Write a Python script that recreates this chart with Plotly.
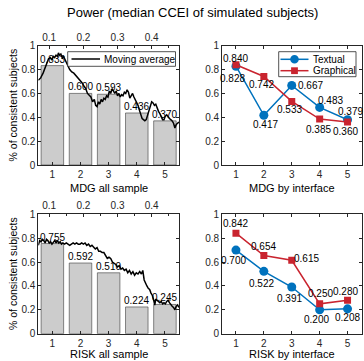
import plotly.graph_objects as go

# ---------------- data ----------------
groups = [1, 2, 3, 4, 5]

mdg_all = [0.833, 0.600, 0.593, 0.436, 0.370]
risk_all = [0.755, 0.592, 0.510, 0.224, 0.245]

mdg_textual = [0.828, 0.417, 0.667, 0.483, 0.379]
mdg_graphical = [0.840, 0.742, 0.533, 0.385, 0.360]
risk_textual = [0.700, 0.522, 0.391, 0.200, 0.208]
risk_graphical = [0.842, 0.654, 0.615, 0.250, 0.280]

# moving average of consistency against the CCEI threshold (top axis)
mdg_ma_x = [0.068, 0.075, 0.082, 0.088, 0.094, 0.098, 0.103, 0.108, 0.112, 0.116,
            0.120, 0.124, 0.127, 0.130, 0.134, 0.138, 0.142, 0.146, 0.150, 0.155,
            0.160, 0.166, 0.172, 0.178, 0.184, 0.190, 0.196, 0.202, 0.207, 0.212,
            0.217, 0.222, 0.227, 0.232, 0.236, 0.240, 0.244, 0.248, 0.252, 0.256,
            0.260, 0.264, 0.268, 0.272, 0.276, 0.280, 0.284, 0.288, 0.292, 0.296,
            0.300, 0.304, 0.308, 0.312, 0.316, 0.320, 0.324, 0.328, 0.332, 0.336,
            0.340, 0.344, 0.348, 0.352, 0.356, 0.360, 0.364, 0.368, 0.372, 0.376,
            0.380, 0.384, 0.388, 0.392, 0.396, 0.400, 0.404, 0.408, 0.412, 0.416,
            0.420, 0.424, 0.428, 0.432, 0.436, 0.440, 0.444, 0.448, 0.452, 0.456,
            0.460, 0.464, 0.468, 0.472, 0.476, 0.480]
mdg_ma_y = [0.71, 0.73, 0.77, 0.82, 0.87, 0.89, 0.90, 0.88, 0.91, 0.90,
            0.92, 0.91, 0.94, 0.92, 0.93, 0.90, 0.91, 0.88, 0.85, 0.83,
            0.80, 0.78, 0.77, 0.75, 0.73, 0.71, 0.69, 0.66, 0.64, 0.60,
            0.58, 0.57, 0.53, 0.55, 0.50, 0.49, 0.53, 0.51, 0.55, 0.53,
            0.56, 0.55, 0.58, 0.57, 0.62, 0.60, 0.64, 0.62, 0.60, 0.62,
            0.58, 0.60, 0.57, 0.59, 0.58, 0.61, 0.60, 0.63, 0.61, 0.56,
            0.58, 0.60, 0.57, 0.55, 0.53, 0.50, 0.46, 0.42, 0.39, 0.38,
            0.37, 0.38, 0.42, 0.47, 0.50, 0.53, 0.52, 0.50, 0.51, 0.47,
            0.45, 0.43, 0.41, 0.38, 0.38, 0.41, 0.42, 0.40, 0.39, 0.38,
            0.37, 0.35, 0.31, 0.34, 0.35, 0.36]

risk_ma_x = [0.068, 0.072, 0.076, 0.080, 0.084, 0.088, 0.092, 0.096, 0.100, 0.104,
             0.108, 0.112, 0.116, 0.120, 0.124, 0.128, 0.132, 0.136, 0.140, 0.145,
             0.150, 0.155, 0.160, 0.165, 0.170, 0.175, 0.180, 0.185, 0.190, 0.195,
             0.200, 0.205, 0.210, 0.215, 0.220, 0.225, 0.230, 0.235, 0.240, 0.245,
             0.250, 0.255, 0.260, 0.265, 0.270, 0.275, 0.280, 0.285, 0.290, 0.295,
             0.300, 0.305, 0.310, 0.315, 0.320, 0.325, 0.330, 0.335, 0.340, 0.345,
             0.350, 0.355, 0.360, 0.365, 0.370, 0.374, 0.378, 0.382, 0.386, 0.390,
             0.394, 0.398, 0.402, 0.406, 0.409, 0.412, 0.416, 0.420, 0.424, 0.428,
             0.432, 0.436, 0.440, 0.444, 0.448, 0.452, 0.456, 0.460, 0.464, 0.468,
             0.472, 0.476, 0.480]
risk_ma_y = [0.74, 0.78, 0.77, 0.79, 0.78, 0.76, 0.79, 0.78, 0.76, 0.77,
             0.75, 0.77, 0.78, 0.76, 0.78, 0.76, 0.77, 0.75, 0.76, 0.75,
             0.76, 0.75, 0.74, 0.75, 0.76, 0.75, 0.76, 0.75, 0.75, 0.76,
             0.75, 0.76, 0.74, 0.75, 0.73, 0.74, 0.72, 0.71, 0.72, 0.69,
             0.69, 0.68, 0.68, 0.66, 0.63, 0.64, 0.63, 0.60, 0.59, 0.58,
             0.56, 0.57, 0.54, 0.55, 0.53, 0.54, 0.51, 0.53, 0.50, 0.52,
             0.49, 0.51, 0.50, 0.52, 0.50, 0.53, 0.45, 0.42, 0.40, 0.38,
             0.37, 0.34, 0.32, 0.28, 0.24, 0.29, 0.28, 0.27, 0.26, 0.27,
             0.25, 0.26, 0.25, 0.27, 0.28, 0.26, 0.24, 0.23, 0.22, 0.20,
             0.23, 0.24, 0.22]

y_ticks = [0, 0.2, 0.4, 0.6, 0.8, 1]
top_ticks = [0.1, 0.2, 0.3, 0.4]

# ---------------- style ----------------
FONT = "Liberation Sans, Arial, sans-serif"
AX = "#262626"
BLUE = "#0072BD"
RED = "#C9242F"
W, H = 364, 361


def px_x(a, b):
    return [a / W, b / W]


def px_y(top, bottom):
    return [1 - bottom / H, 1 - top / H]


def fx(p):
    return p / W


def fy(p):
    return 1 - p / H


dom_left = px_x(38.3, 179.0)
dom_right = px_x(222.0, 361.5)
dom_top = px_y(45.7, 165.0)
dom_bot = px_y(214.3, 333.7)

fig = go.Figure()

# bars with moving averages (left column)
for xa, ya, xt, vals, ma_x, ma_y in [
        ("x", "y", "x5", mdg_all, mdg_ma_x, mdg_ma_y),
        ("x3", "y3", "x6", risk_all, risk_ma_x, risk_ma_y)]:
    fig.add_trace(go.Bar(x=groups, y=vals, width=0.8, xaxis=xa, yaxis=ya,
                         marker=dict(color="#cccccc", line=dict(color="#3a3a3a", width=0.6)),
                         showlegend=False))
    fig.add_trace(go.Scatter(x=ma_x, y=ma_y, mode="lines", xaxis=xt, yaxis=ya,
                             line=dict(color="black", width=1.5),
                             name="Moving average", showlegend=False))
    for g, v in zip(groups, vals):
        fig.add_annotation(x=g, y=v, xref=xa, yref=ya, text=f"{v:.3f}",
                           showarrow=False, yanchor="bottom", yshift=-1,
                           font=dict(size=10, color="black", family=FONT))

# interface comparison (right column)
for xa, ya, tex, gra in [("x2", "y2", mdg_textual, mdg_graphical),
                         ("x4", "y4", risk_textual, risk_graphical)]:
    fig.add_trace(go.Scatter(x=groups, y=tex, mode="lines+markers", xaxis=xa, yaxis=ya,
                             line=dict(color=BLUE, width=1.5),
                             marker=dict(symbol="circle", size=9, color=BLUE),
                             name="Textual", showlegend=False))
    fig.add_trace(go.Scatter(x=groups, y=gra, mode="lines+markers", xaxis=xa, yaxis=ya,
                             line=dict(color=RED, width=1.5),
                             marker=dict(symbol="square", size=7, color=RED),
                             name="Graphical", showlegend=False))

# label offsets (dx in x units, dy in y units) for the interface panels
mdg_tex_off = [(-0.12, -0.10), (0.05, -0.08), (0.66, 0.0), (0.40, 0.06), (0.10, 0.07)]
mdg_gra_off = [(0.0, 0.05), (-0.07, -0.07), (-0.08, -0.07), (-0.04, -0.09), (-0.08, -0.08)]
risk_tex_off = [(-0.08, -0.09), (-0.07, -0.10), (-0.08, -0.10), (-0.10, -0.085), (0.01, -0.07)]
risk_gra_off = [(-0.02, 0.083), (-0.03, 0.08), (0.54, 0.015), (0.02, 0.088), (-0.06, 0.077)]

for xa, ya, vals, offs in [("x2", "y2", mdg_textual, mdg_tex_off),
                           ("x2", "y2", mdg_graphical, mdg_gra_off),
                           ("x4", "y4", risk_textual, risk_tex_off),
                           ("x4", "y4", risk_graphical, risk_gra_off)]:
    for g, v, (dx, dy) in zip(groups, vals, offs):
        fig.add_annotation(x=g + dx, y=v + dy, xref=xa, yref=ya, text=f"{v:.3f}",
                           showarrow=False, font=dict(size=10, color="black", family=FONT))

common_axis = dict(showline=True, linecolor=AX, linewidth=0.8, ticks="inside",
                   ticklen=3, tickcolor=AX, showgrid=False, zeroline=False,
                   automargin=False,
                   tickfont=dict(size=10, color=AX, family=FONT))


def xaxis(domain, anchor, mirror):
    return dict(common_axis, domain=domain, anchor=anchor, range=[0.5, 5.5],
                tickvals=groups, mirror=mirror)


def yaxis(domain, anchor):
    return dict(common_axis, domain=domain, anchor=anchor, range=[0, 1],
                tickvals=y_ticks, ticktext=[f"{t:g}" for t in y_ticks], mirror="ticks")


def top_axis(domain, anchor, over):
    return dict(common_axis, domain=domain, anchor=anchor, overlaying=over,
                side="top", range=[0.068, 0.48], tickvals=top_ticks,
                ticktext=[f"{t:g}" for t in top_ticks],
                minor=dict(tickvals=[0.15, 0.25, 0.35, 0.45], ticks="inside", ticklen=2,
                           tickcolor=AX))


fig.update_layout(
    width=W, height=H, margin=dict(l=0, r=0, t=0, b=0),
    paper_bgcolor="white", plot_bgcolor="white",
    font=dict(family=FONT, color=AX),
    barmode="overlay", showlegend=False,
    xaxis=xaxis(dom_left, "y", False),
    yaxis=yaxis(dom_top, "x"),
    xaxis2=xaxis(dom_right, "y2", "ticks"),
    yaxis2=yaxis(dom_top, "x2"),
    xaxis3=xaxis(dom_left, "y3", False),
    yaxis3=yaxis(dom_bot, "x3"),
    xaxis4=xaxis(dom_right, "y4", "ticks"),
    yaxis4=yaxis(dom_bot, "x4"),
    xaxis5=top_axis(dom_left, "y", "x"),
    xaxis6=top_axis(dom_left, "y3", "x3"),
)

# ---- legend boxes ----
shapes = []
# moving-average legend
shapes.append(dict(type="rect", xref="paper", yref="paper",
                   x0=fx(67.7), x1=fx(175.5), y0=fy(66.3), y1=fy(51.7),
                   fillcolor="white", line=dict(color=AX, width=0.8), layer="above"))
shapes.append(dict(type="line", xref="paper", yref="paper",
                   x0=fx(71.5), x1=fx(100), y0=fy(59), y1=fy(59),
                   line=dict(color="black", width=1.5), layer="above"))
fig.add_annotation(x=fx(101.5), y=fy(59), xref="paper", yref="paper",
                   text="Moving average", showarrow=False, xanchor="left",
                   yanchor="middle", font=dict(size=10, color="black", family=FONT))

# interface legend
shapes.append(dict(type="rect", xref="paper", yref="paper",
                   x0=fx(278.7), x1=fx(356), y0=fy(76.7), y1=fy(51.7),
                   fillcolor="white", line=dict(color=AX, width=0.8), layer="above"))
for yy, col, name, sym in [(59.3, BLUE, "Textual", "circle"),
                           (70.7, RED, "Graphical", "square")]:
    shapes.append(dict(type="line", xref="paper", yref="paper",
                       x0=fx(280.5), x1=fx(308.5), y0=fy(yy), y1=fy(yy),
                       line=dict(color=col, width=1.5), layer="above"))
    r = 4.3 if sym == "circle" else 3.4
    shapes.append(dict(type="circle" if sym == "circle" else "rect",
                       xref="paper", yref="paper",
                       x0=fx(294.5 - r), x1=fx(294.5 + r), y0=fy(yy + r), y1=fy(yy - r),
                       fillcolor=col, line=dict(color=col, width=0), layer="above"))
    fig.add_annotation(x=fx(311), y=fy(yy), xref="paper", yref="paper",
                       text=name, showarrow=False, xanchor="left", yanchor="middle",
                       font=dict(size=10, color="black", family=FONT))
fig.update_layout(shapes=shapes)

# titles and axis labels
texts = [
    ("Power (median CCEI of simulated subjects)", 192.5, 13, 13, 0),
    ("MDG all sample", 108.6, 188, 11, 0),
    ("MDG by interface", 292, 188, 11, 0),
    ("RISK all sample", 108.6, 354, 11, 0),
    ("RISK by interface", 292, 354, 11, 0),
    ("% of consistent subjects", 13, 105.4, 10.5, -90),
    ("% of consistent subjects", 13, 274, 10.5, -90),
]
for t, x, y, size, ang in texts:
    fig.add_annotation(x=fx(x), y=fy(y), xref="paper", yref="paper", text=t,
                       showarrow=False, textangle=ang, xanchor="center", yanchor="middle",
                       font=dict(size=size, color="black", family=FONT))

fig.write_html("out.html")
